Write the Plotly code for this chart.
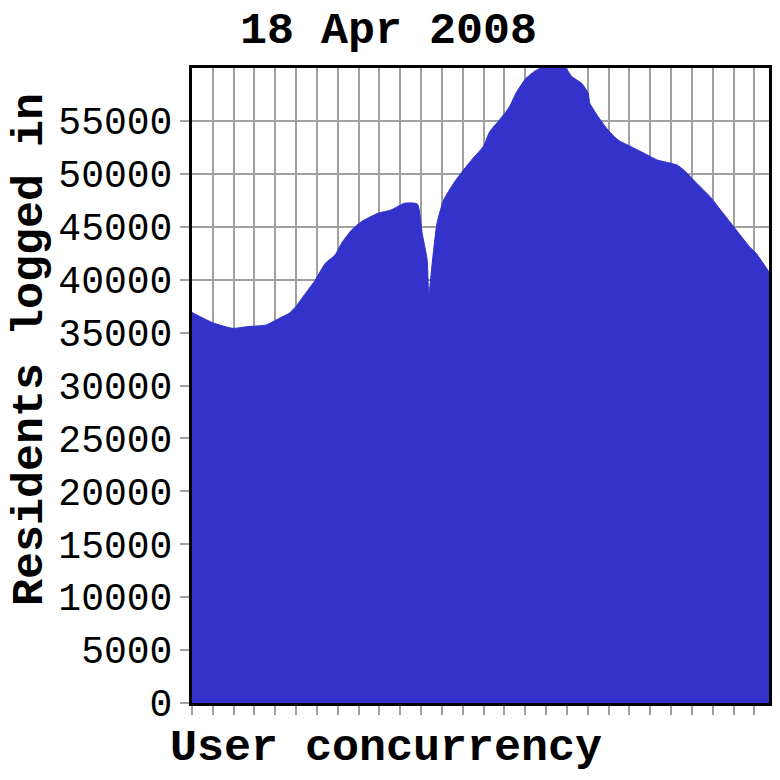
import plotly.graph_objects as go

# hours-ish position along the day (one grid step = 1) and residents logged in
heure = [0.0, 1.03, 1.97, 2.61, 3.56, 4.19, 4.66, 4.98, 5.45, 5.92, 6.40, 6.87,
         7.18, 7.66, 8.13, 8.92, 9.55, 10.19, 10.82, 11.05, 11.29, 11.37, 11.53,
         11.76, 12.08, 12.56, 13.03, 13.5, 13.98, 14.29, 14.76, 15.24, 15.55,
         16.03, 16.42, 16.74, 17.92, 18.24, 18.71, 19.02, 19.10, 19.50, 19.97,
         20.45, 21.08, 21.71, 22.34, 23.29, 23.61, 24.23, 24.87, 25.50, 26.13,
         26.76, 27.08, 27.64, 27.7]
residents = [36900, 35900, 35400, 35560, 35720, 36350, 36820, 37450, 38710, 39970,
             41550, 42330, 43440, 44690, 45480, 46270, 46580, 47220, 47150, 44380,
             41860, 38550, 41550, 45320, 47530, 49110, 50360, 51500, 52570, 53980,
             55090, 56340, 57610, 59020, 59650, 60000, 60000, 59180, 58550, 57610,
             56660, 55400, 54140, 53200, 52570, 51940, 51310, 50830, 50360, 49110,
             47840, 46270, 44690, 43120, 42490, 40910, 40700]

y_ticks = [0, 5000, 10000, 15000, 20000, 25000, 30000, 35000, 40000, 45000, 50000, 55000]

titre = "18 Apr 2008"
titre_x = "User concurrency"
titre_y = "Residents logged in"

bleu = "rgb(51,51,204)"
gris = "rgb(160,160,160)"
police_titre = dict(family="Liberation Mono", size=45, color="black", weight="bold")

fig = go.Figure()
fig.add_trace(
    go.Scatter(
        x=heure,
        y=residents,
        mode="lines",
        fill="tozeroy",
        fillcolor=bleu,
        line=dict(color=bleu, width=1, shape="spline", smoothing=0.5),
        hoverinfo="skip",
    )
)

# the page body keeps its 8px margin, so the figure is 764 wide to fit the window
fig.update_layout(
    width=764,
    height=764,
    margin=dict(l=184, r=0, t=60, b=69),
    paper_bgcolor="white",
    plot_bgcolor="white",
    showlegend=False,
    annotations=[
        dict(text=titre, x=0.340, y=1.058, xref="paper", yref="paper",
             showarrow=False, xanchor="center", yanchor="middle", font=police_titre),
        dict(text=titre_x, x=0.337, y=-0.071, xref="paper", yref="paper",
             showarrow=False, xanchor="center", yanchor="middle", font=police_titre),
        dict(text=titre_y, x=-0.279, y=0.556, xref="paper", yref="paper",
             showarrow=False, xanchor="center", yanchor="middle", textangle=-90,
             font=police_titre),
    ],
)

fig.update_xaxes(
    range=[0, 27.7],
    tick0=0,
    dtick=1,
    showticklabels=False,
    ticks="outside",
    ticklen=9,
    tickwidth=2,
    tickcolor=gris,
    showgrid=True,
    gridcolor=gris,
    gridwidth=2,
    showline=True,
    linecolor="black",
    linewidth=3,
    mirror=True,
    zeroline=False,
    layer="below traces",
)
fig.update_yaxes(
    range=[0, 60000],
    tickmode="array",
    tickvals=y_ticks,
    ticktext=[str(v) for v in y_ticks],
    ticks="outside",
    ticklen=9,
    tickwidth=2,
    tickcolor=gris,
    ticklabelstandoff=0,
    tickfont=dict(family="Liberation Mono", size=38, color="black"),
    showgrid=True,
    gridcolor=gris,
    gridwidth=2,
    showline=True,
    linecolor="black",
    linewidth=3,
    mirror=True,
    zeroline=False,
    layer="below traces",
)

fig.write_html("out.html")
